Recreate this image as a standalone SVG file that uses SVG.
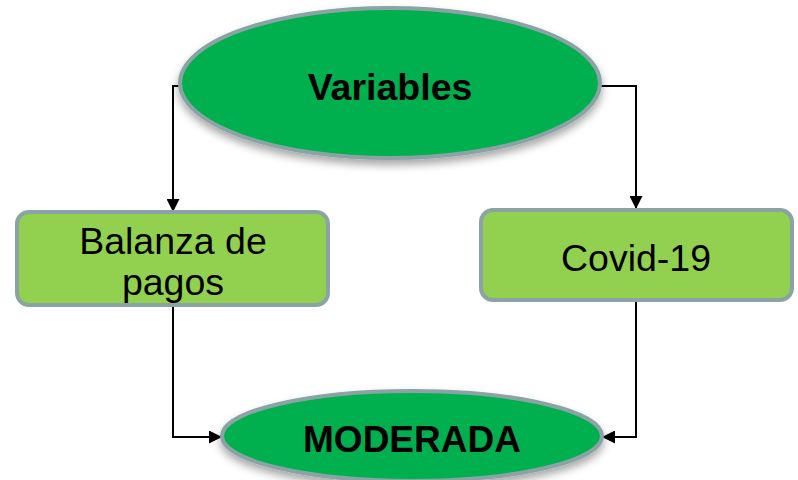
<svg xmlns="http://www.w3.org/2000/svg" width="798" height="480" viewBox="0 0 798 480">
<defs>
<style>
.oval{fill:#00b050;stroke:#8ca3a6;stroke-width:4}
.box{fill:#92d050;stroke:#8ca3a6;stroke-width:4}
.conn{fill:none;stroke:#000;stroke-width:2}
.t{font-family:"Liberation Sans",Arial,sans-serif;fill:#000;text-anchor:middle}
.b{font-weight:bold}
.n{font-size:37.5px}
</style>
<filter id="sh" x="-10%" y="-10%" width="120%" height="130%">
<feDropShadow dx="0" dy="5" stdDeviation="4" flood-color="#000" flood-opacity="0.35"/>
</filter>
<marker id="ah" viewBox="0 0 12 12" refX="12" refY="6" markerWidth="13" markerHeight="13" markerUnits="userSpaceOnUse" orient="auto">
<path d="M0,0 L12,6 L0,12 z" fill="#000"/>
</marker>
</defs>
<g id="connectors">
<path class="conn" d="M181,86 H173 V212" marker-end="url(#ah)"/>
<path class="conn" d="M600,86 H636 V209" marker-end="url(#ah)"/>
<path class="conn" d="M173,305 V437 H222" marker-end="url(#ah)"/>
<path class="conn" d="M636,300 V437 H602" marker-end="url(#ah)"/>
</g>
<g id="variables">
<ellipse class="oval" cx="390" cy="83" rx="210" ry="75" filter="url(#sh)"/>
<text class="t b" x="390" y="100" font-size="37.5">Variables</text>
</g>
<g id="balanza">
<rect class="box" x="17" y="212" width="311" height="93" rx="12"/>
<text class="t n" x="173" y="254">Balanza de</text>
<text class="t n" x="173" y="295">pagos</text>
</g>
<g id="covid">
<rect class="box" x="481" y="210" width="311" height="90" rx="12"/>
<text class="t n" x="636" y="271">Covid-19</text>
</g>
<g id="moderada">
<ellipse class="oval" cx="412" cy="436" rx="190" ry="45" filter="url(#sh)"/>
<text class="t b" x="412" y="452" font-size="37">MODERADA</text>
</g>
</svg>
